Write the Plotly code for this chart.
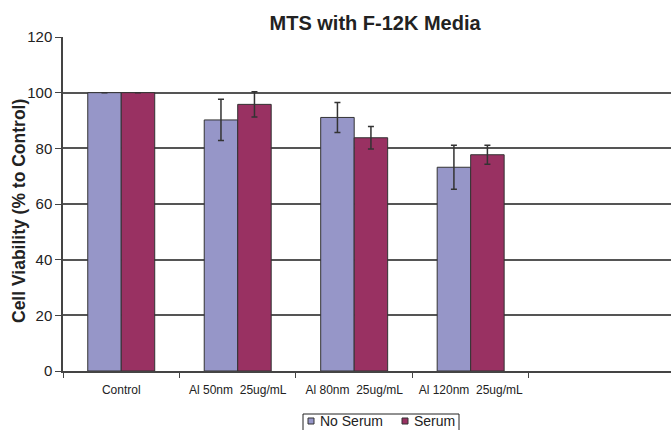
import plotly.graph_objects as go

categories = ["Control", "Al 50nm  25ug/mL", "Al 80nm  25ug/mL", "Al 120nm  25ug/mL"]
series_names = ["No Serum", "Serum"]
no_serum = [100, 90.2, 91.1, 73.2]
no_serum_err = [0, 7.4, 5.4, 7.9]
serum = [100, 95.8, 83.8, 77.7]
serum_err = [0, 4.5, 4.0, 3.4]
y_ticks = [0, 20, 40, 60, 80, 100, 120]
colors = ["#9696c8", "#993162"]

# plot-area geometry in pixels (for converting legend/title placement to paper coords)
L, T, R, B = 63, 37, 671, 371
def px(x):
    return (x - L) / (R - L)
def py(y):
    return (B - y) / (B - T)

fig = go.Figure()
for name, vals, errs, col in [(series_names[0], no_serum, no_serum_err, colors[0]),
                              (series_names[1], serum, serum_err, colors[1])]:
    fig.add_trace(go.Bar(
        name=name, x=categories, y=vals, showlegend=False,
        marker=dict(color=col, line=dict(color="#333333", width=1)),
        error_y=dict(type="data", array=errs, visible=True,
                     color="#333333", thickness=1.5, width=3),
    ))

# manual legend (box, swatches, labels)
shapes = [dict(type="rect", xref="paper", yref="paper",
               x0=px(303), x1=px(459), y0=py(414), y1=py(445),
               line=dict(color="#222222", width=1), fillcolor="white")]
annotations = []
legend_items = [(series_names[0], colors[0], 308), (series_names[1], colors[1], 402)]
for name, col, x0 in legend_items:
    shapes.append(dict(type="rect", xref="paper", yref="paper",
                       x0=px(x0), x1=px(x0 + 6), y0=py(418), y1=py(424),
                       line=dict(color="#333333", width=1), fillcolor=col))
    annotations.append(dict(text=name, xref="paper", yref="paper",
                            x=px(x0 + 10), y=py(421), xanchor="left", yanchor="middle",
                            showarrow=False, font=dict(size=14, color="#222222")))

annotations.append(dict(text="<b>Cell Viability (% to Control)</b>", xref="paper", yref="paper",
                        x=px(19), y=py(211), xanchor="center", yanchor="middle",
                        textangle=-90, showarrow=False,
                        font=dict(size=17.5, color="#222222")))

fig.update_layout(
    width=671, height=430,
    margin=dict(l=L, r=671 - R, t=T, b=430 - B, autoexpand=False),
    paper_bgcolor="white", plot_bgcolor="white",
    barmode="group", bargap=0.425, bargroupgap=0,
    font=dict(family="Liberation Sans, Arial, sans-serif", color="#222222"),
    title=dict(text="<b>MTS with F-12K Media</b>", x=0.559, xanchor="center",
               y=1 - 23 / 430, yanchor="middle", font=dict(size=20, color="#222222")),
    showlegend=False,
    shapes=shapes,
    annotations=annotations,
    xaxis=dict(range=[-0.5, 4.72], tickson="boundaries", ticks="outside",
               ticklen=5, tickcolor="#444444", showline=True, linecolor="#444444",
               linewidth=1.5, tickfont=dict(size=12), showgrid=False, automargin=False,
               ticklabelstandoff=7),
    yaxis=dict(range=[0, 120], tickvals=y_ticks, ticks="outside", ticklen=6,
               tickcolor="#444444", showline=True, linecolor="#444444", linewidth=1.5,
               showgrid=True, gridcolor="#555555", gridwidth=1.5, zeroline=False,
               tickfont=dict(size=15), automargin=False),
)

fig.write_html("out.html", post_script="document.body.style.margin='0';",
               config={"displayModeBar": False})
